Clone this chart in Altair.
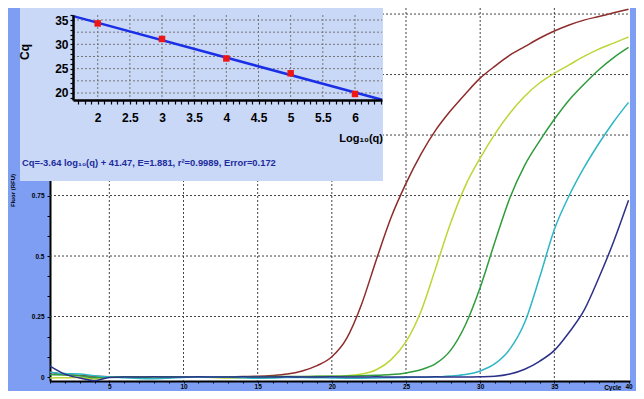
import altair as alt
import pandas as pd

FONT = "Liberation Sans"

# ---------------- amplification curves (RFU per cycle) ----------------
cycles = list(range(1, 41))
curve_names = ["Std 1", "Std 2", "Std 3", "Std 4", "Std 5"]
curve_colors = ["#8E2C2C", "#BDD535", "#2F9C3B", "#2EB6C4", "#2C3088"]

s1 = [0.020, 0.010, 0.006, 0.003, 0.001, 0.000, 0.000, 0.001, 0.000, 0.001,
      0.001, 0.000, 0.001, 0.002, 0.003, 0.006, 0.012, 0.025, 0.047, 0.084,
      0.160, 0.300, 0.485, 0.660, 0.800, 0.920, 1.020, 1.100, 1.170, 1.235,
      1.285, 1.330, 1.365, 1.400, 1.430, 1.455, 1.475, 1.490, 1.505, 1.520]
s2 = [-0.004, -0.003, -0.002, -0.008, 0.000, 0.000, 0.001, 0.000, -0.001, 0.000,
      0.000, -0.002, -0.004, -0.003, 0.000, 0.000, 0.001, 0.001, 0.002, 0.003,
      0.005, 0.012, 0.030, 0.072, 0.146, 0.270, 0.450, 0.635, 0.790, 0.905,
      1.005, 1.090, 1.160, 1.215, 1.255, 1.290, 1.325, 1.355, 1.380, 1.405]
s3 = [0.010, 0.008, 0.005, -0.003, 0.000, 0.001, 0.000, 0.001, 0.001, 0.000,
      0.001, 0.001, 0.000, 0.001, 0.001, 0.002, 0.002, 0.002, 0.003, 0.003,
      0.004, 0.005, 0.007, 0.010, 0.017, 0.030, 0.055, 0.110, 0.215, 0.370,
      0.560, 0.740, 0.875, 0.975, 1.065, 1.145, 1.210, 1.270, 1.320, 1.362]
s4 = [0.020, 0.014, 0.012, 0.005, 0.000, -0.003, -0.006, -0.007, -0.005, -0.002,
      0.000, 0.000, -0.001, -0.003, -0.005, -0.004, -0.002, -0.002, -0.003, -0.004,
      -0.005, -0.005, -0.004, -0.003, -0.002, -0.001, 0.000, 0.004, 0.010, 0.025,
      0.055, 0.115, 0.225, 0.410, 0.610, 0.750, 0.865, 0.965, 1.055, 1.135]
s5 = [0.045, 0.012, -0.004, -0.015, -0.002, 0.000, 0.000, 0.001, 0.000, 0.000,
      0.001, 0.000, 0.000, 0.001, 0.000, 0.000, 0.001, 0.000, 0.000, 0.001,
      0.000, 0.000, 0.001, 0.000, 0.000, 0.000, 0.001, 0.000, 0.000, 0.001,
      0.003, 0.012, 0.032, 0.065, 0.110, 0.185, 0.275, 0.410, 0.560, 0.730]

main_xgrid = [5, 10, 15, 20, 25, 30, 35]
main_ygrid = [0.25, 0.5, 0.75, 1.0, 1.25, 1.5]
main_yticks = [round(i / 12, 5) for i in range(19)]

# ---------------- standard curve (inset) ----------------
std_log = [2, 3, 4, 5, 6]
std_cq = [34.3, 31.1, 27.1, 24.05, 19.8]
fit_log = [1.62, 6.42]
fit_cq = [35.8, 18.6]
inset_xgrid = [2, 2.5, 3, 3.5, 4, 4.5, 5, 5.5, 6]
inset_ygrid = [20, 22.5, 25, 27.5, 30, 32.5, 35]
inset_xticks = [round(1.7 + 0.1 * i, 1) for i in range(48)]
inset_yticks = list(range(19, 37))
equation = "Cq=-3.64 log\u2081\u2080(q) + 41.47, E=1.881, r\u00b2=0.9989, Error=0.172"

W, H = 580, 373

rows = []
for name, vals in zip(curve_names, [s1, s2, s3, s4, s5]):
    for c, v in zip(cycles, vals):
        rows.append({"cycle": c, "rfu": v, "series": name})
df_curves = pd.DataFrame(rows)

xs = alt.Scale(domain=[1, 40.1], nice=False, zero=False)
ys = alt.Scale(domain=[-0.0165, 1.525], nice=False, zero=False)

main_x_axis = alt.Axis(
    values=cycles, labelExpr="datum.value % 5 == 0 ? datum.label : ''",
    grid=False, title="Cycle", titleFont=FONT, titleFontSize=6.5, titleFontWeight="bold",
    titleX=571, titleY=3, titleAlign="right", titleBaseline="top", titleColor="black",
    domainColor="black", domainWidth=2, tickColor="black", tickSize=2,
    labelFont=FONT, labelFontSize=6.5, labelFontWeight="bold", labelColor="black",
    labelPadding=0, labelFlush=False, zindex=0)
main_y_axis = alt.Axis(
    values=main_yticks, format="~g",
    labelExpr="abs(datum.value*4 - round(datum.value*4)) < 0.000001 ? datum.label : ''",
    grid=False, title="Fluor (RFU)", titleFont=FONT, titleFontSize=6, titleFontWeight="bold",
    titleX=-38, titleY=182, titleAngle=270, titleAlign="center", titleBaseline="middle",
    titleColor="black",
    domainColor="black", domainWidth=2, tickColor="black", tickSize=3,
    labelFont=FONT, labelFontSize=6.5, labelFontWeight="bold", labelColor="black",
    labelPadding=3, labelFlush=False, zindex=0)

vgrid = alt.Chart(pd.DataFrame({"g": main_xgrid})).mark_rule(
    color="#444444", strokeWidth=1, strokeDash=[2, 2]
).encode(x=alt.X("g:Q", scale=xs, axis=main_x_axis), y=alt.value(0), y2=alt.value(H))

hgrid = alt.Chart(pd.DataFrame({"g": main_ygrid})).mark_rule(
    color="#444444", strokeWidth=1, strokeDash=[2, 2]
).encode(y=alt.Y("g:Q", scale=ys, axis=main_y_axis), x=alt.value(0), x2=alt.value(W))

curves = alt.Chart(df_curves).mark_line(strokeWidth=1.5, interpolate="monotone").encode(
    x=alt.X("cycle:Q", scale=xs, axis=main_x_axis),
    y=alt.Y("rfu:Q", scale=ys, axis=main_y_axis),
    color=alt.Color("series:N", scale=alt.Scale(domain=curve_names, range=curve_colors), legend=None),
)

main = alt.layer(vgrid, hgrid, curves)

# ---------------- inset ----------------
xi = alt.Scale(domain=[1.616, 6.42], range=[23, 332], nice=False, zero=False)
yi = alt.Scale(domain=[18.56, 36.03], range=[92, 7], nice=False, zero=False)

inset_x_axis = alt.Axis(
    orient="bottom", offset=92 - H, values=inset_xticks, format="~g",
    labelExpr="abs(datum.value*2 - round(datum.value*2)) < 0.000001 ? datum.label : ''",
    grid=False, title="", domainColor="black", domainWidth=2.5, tickColor="black",
    tickSize=4, tickWidth=1.2, labelFont=FONT, labelFontSize=12, labelFontWeight="bold",
    labelColor="black", labelPadding=8, labelFlush=False, zindex=1)
inset_y_axis = alt.Axis(
    orient="left", offset=-23, values=inset_yticks,
    labelExpr="datum.value % 5 == 0 ? datum.label : ''",
    grid=False, title="", domainColor="black", domainWidth=2.5, tickColor="black",
    tickSize=3, tickWidth=1.2, labelFont=FONT, labelFontSize=12, labelFontWeight="bold",
    labelColor="black", labelPadding=2, labelFlush=False, zindex=1)

inset_bg = alt.Chart(pd.DataFrame({"k": [0]})).mark_rect(color="#C9D8F7").encode(
    x=alt.value(-30), x2=alt.value(333), y=alt.value(0), y2=alt.value(173))

ivgrid = alt.Chart(pd.DataFrame({"g": inset_xgrid})).mark_rule(
    color="#777777", strokeWidth=1, strokeDash=[2, 2]
).encode(x=alt.X("g:Q", scale=xi, axis=inset_x_axis), y=alt.value(7), y2=alt.value(92))

ihgrid = alt.Chart(pd.DataFrame({"g": inset_ygrid})).mark_rule(
    color="#777777", strokeWidth=1, strokeDash=[2, 2]
).encode(y=alt.Y("g:Q", scale=yi, axis=inset_y_axis), x=alt.value(23), x2=alt.value(332))

fit = alt.Chart(pd.DataFrame({"x": fit_log, "y": fit_cq})).mark_line(
    color="#1B30E6", strokeWidth=2.5
).encode(x=alt.X("x:Q", scale=xi, axis=inset_x_axis), y=alt.Y("y:Q", scale=yi, axis=inset_y_axis))

pts = alt.Chart(pd.DataFrame({"x": std_log, "y": std_cq})).mark_square(
    color="#F01515", size=42, opacity=1
).encode(x=alt.X("x:Q", scale=xi, axis=inset_x_axis), y=alt.Y("y:Q", scale=yi, axis=inset_y_axis))

cq_label = alt.Chart(pd.DataFrame({"t": ["Cq"]})).mark_text(
    font=FONT, fontSize=12, fontWeight="bold", color="black", angle=270,
    align="center", baseline="middle"
).encode(text="t:N", x=alt.value(-25), y=alt.value(44))

log_label = alt.Chart(pd.DataFrame({"t": ["Log\u2081\u2080(q)"]})).mark_text(
    font=FONT, fontSize=11, fontWeight="bold", color="black",
    align="right", baseline="middle"
).encode(text="t:N", x=alt.value(333), y=alt.value(131))

eq_label = alt.Chart(pd.DataFrame({"t": [equation]})).mark_text(
    font=FONT, fontSize=9.4, fontWeight="bold", color="#1C2C9C",
    align="left", baseline="middle"
).encode(text="t:N", x=alt.value(-28), y=alt.value(155))

inset = alt.layer(inset_bg, ivgrid, ihgrid, fit, pts, cq_label, log_label, eq_label)

chart = alt.layer(main, inset).resolve_scale(
    x="independent", y="independent"
).properties(
    width=W, height=H, background="#7D9EF2",
    padding={"left": 42, "top": 0, "right": 6, "bottom": 10},
    autosize=alt.AutoSizeParams(type="none"),
).configure_view(stroke=None, fill="white")

chart.save("out.html", embed_options={"renderer": "svg", "actions": False})
